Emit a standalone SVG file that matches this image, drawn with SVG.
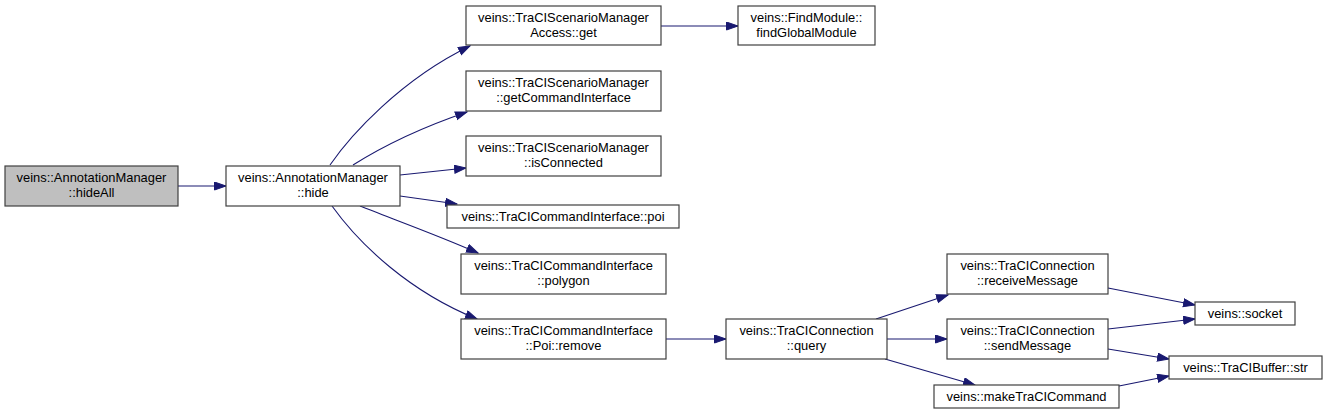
<svg xmlns="http://www.w3.org/2000/svg" width="1327" height="417" viewBox="0 0 1327 417">
<style>
.n rect{fill:#ffffff;stroke:#404040;stroke-width:1.2}
.n.root rect{fill:#bfbfbf}
.n text{font-family:"Liberation Sans",Arial,sans-serif;font-size:12.9px;fill:#000;text-anchor:middle}
.e path{fill:none;stroke:#191970;stroke-width:1.1}
</style>
<defs>
<marker id="ah" markerUnits="userSpaceOnUse" markerWidth="13" markerHeight="10" refX="12" refY="4.5" orient="auto">
<path d="M0.5,0.5 L12,4.5 L0.5,8.5 z" fill="#191970" stroke="#191970" stroke-width="1"/>
</marker>
</defs>
<rect width="1327" height="417" fill="#ffffff"/>
<g id="edges" class="e">
<path marker-end="url(#ah)" d="M178,186 L226,186"/>
<path marker-end="url(#ah)" d="M330,165 C350,136 400,80 470,46"/>
<path marker-end="url(#ah)" d="M353,165 C380,148 420,128 467,112"/>
<path marker-end="url(#ah)" d="M400,175 L466,168"/>
<path marker-end="url(#ah)" d="M400,196 L457,204"/>
<path marker-end="url(#ah)" d="M360,206 C390,218 440,236 478,253"/>
<path marker-end="url(#ah)" d="M332,206 C360,245 410,292 477,319"/>
<path marker-end="url(#ah)" d="M661,26 L738,26"/>
<path marker-end="url(#ah)" d="M666,339 L726,339"/>
<path marker-end="url(#ah)" d="M876,319 L948,295"/>
<path marker-end="url(#ah)" d="M887,339 L947,339"/>
<path marker-end="url(#ah)" d="M885,359 L975,385"/>
<path marker-end="url(#ah)" d="M1108,288 L1195,305"/>
<path marker-end="url(#ah)" d="M1108,329 L1195,319"/>
<path marker-end="url(#ah)" d="M1108,349 L1169,359"/>
<path marker-end="url(#ah)" d="M1119,386 L1169,376"/>
</g>
<g id="hideAll" class="n root"><rect x="5" y="166" width="173" height="40"/><text x="91.5" y="182">veins::AnnotationManager</text><text x="91.5" y="197">::hideAll</text></g>
<g id="hide" class="n"><rect x="226" y="166" width="174" height="40"/><text x="313" y="182">veins::AnnotationManager</text><text x="313" y="197">::hide</text></g>
<g id="get" class="n"><rect x="466" y="6" width="195" height="39"/><text x="563.5" y="22">veins::TraCIScenarioManager</text><text x="563.5" y="37">Access::get</text></g>
<g id="findGlobalModule" class="n"><rect x="738" y="6" width="137" height="39"/><text x="806.5" y="22">veins::FindModule::</text><text x="806.5" y="37">findGlobalModule</text></g>
<g id="getCommandInterface" class="n"><rect x="466" y="71" width="195" height="40"/><text x="563.5" y="87">veins::TraCIScenarioManager</text><text x="563.5" y="102">::getCommandInterface</text></g>
<g id="isConnected" class="n"><rect x="466" y="136" width="195" height="40"/><text x="563.5" y="152">veins::TraCIScenarioManager</text><text x="563.5" y="167">::isConnected</text></g>
<g id="poi" class="n"><rect x="447" y="205" width="232" height="23"/><text x="563" y="221">veins::TraCICommandInterface::poi</text></g>
<g id="polygon" class="n"><rect x="461" y="254" width="205" height="40"/><text x="563.5" y="270">veins::TraCICommandInterface</text><text x="563.5" y="285">::polygon</text></g>
<g id="remove" class="n"><rect x="461" y="319" width="205" height="40"/><text x="563.5" y="335">veins::TraCICommandInterface</text><text x="563.5" y="350">::Poi::remove</text></g>
<g id="query" class="n"><rect x="726" y="319" width="161" height="40"/><text x="806.5" y="335">veins::TraCIConnection</text><text x="806.5" y="350">::query</text></g>
<g id="receiveMessage" class="n"><rect x="947" y="254" width="161" height="40"/><text x="1027.5" y="270">veins::TraCIConnection</text><text x="1027.5" y="285">::receiveMessage</text></g>
<g id="sendMessage" class="n"><rect x="947" y="319" width="161" height="40"/><text x="1027.5" y="335">veins::TraCIConnection</text><text x="1027.5" y="350">::sendMessage</text></g>
<g id="makeTraCICommand" class="n"><rect x="934" y="385" width="185" height="23"/><text x="1026.5" y="401">veins::makeTraCICommand</text></g>
<g id="socket" class="n"><rect x="1195" y="302" width="100" height="23"/><text x="1245" y="318">veins::socket</text></g>
<g id="str" class="n"><rect x="1169" y="356" width="153" height="23"/><text x="1245.5" y="372">veins::TraCIBuffer::str</text></g>
</svg>
